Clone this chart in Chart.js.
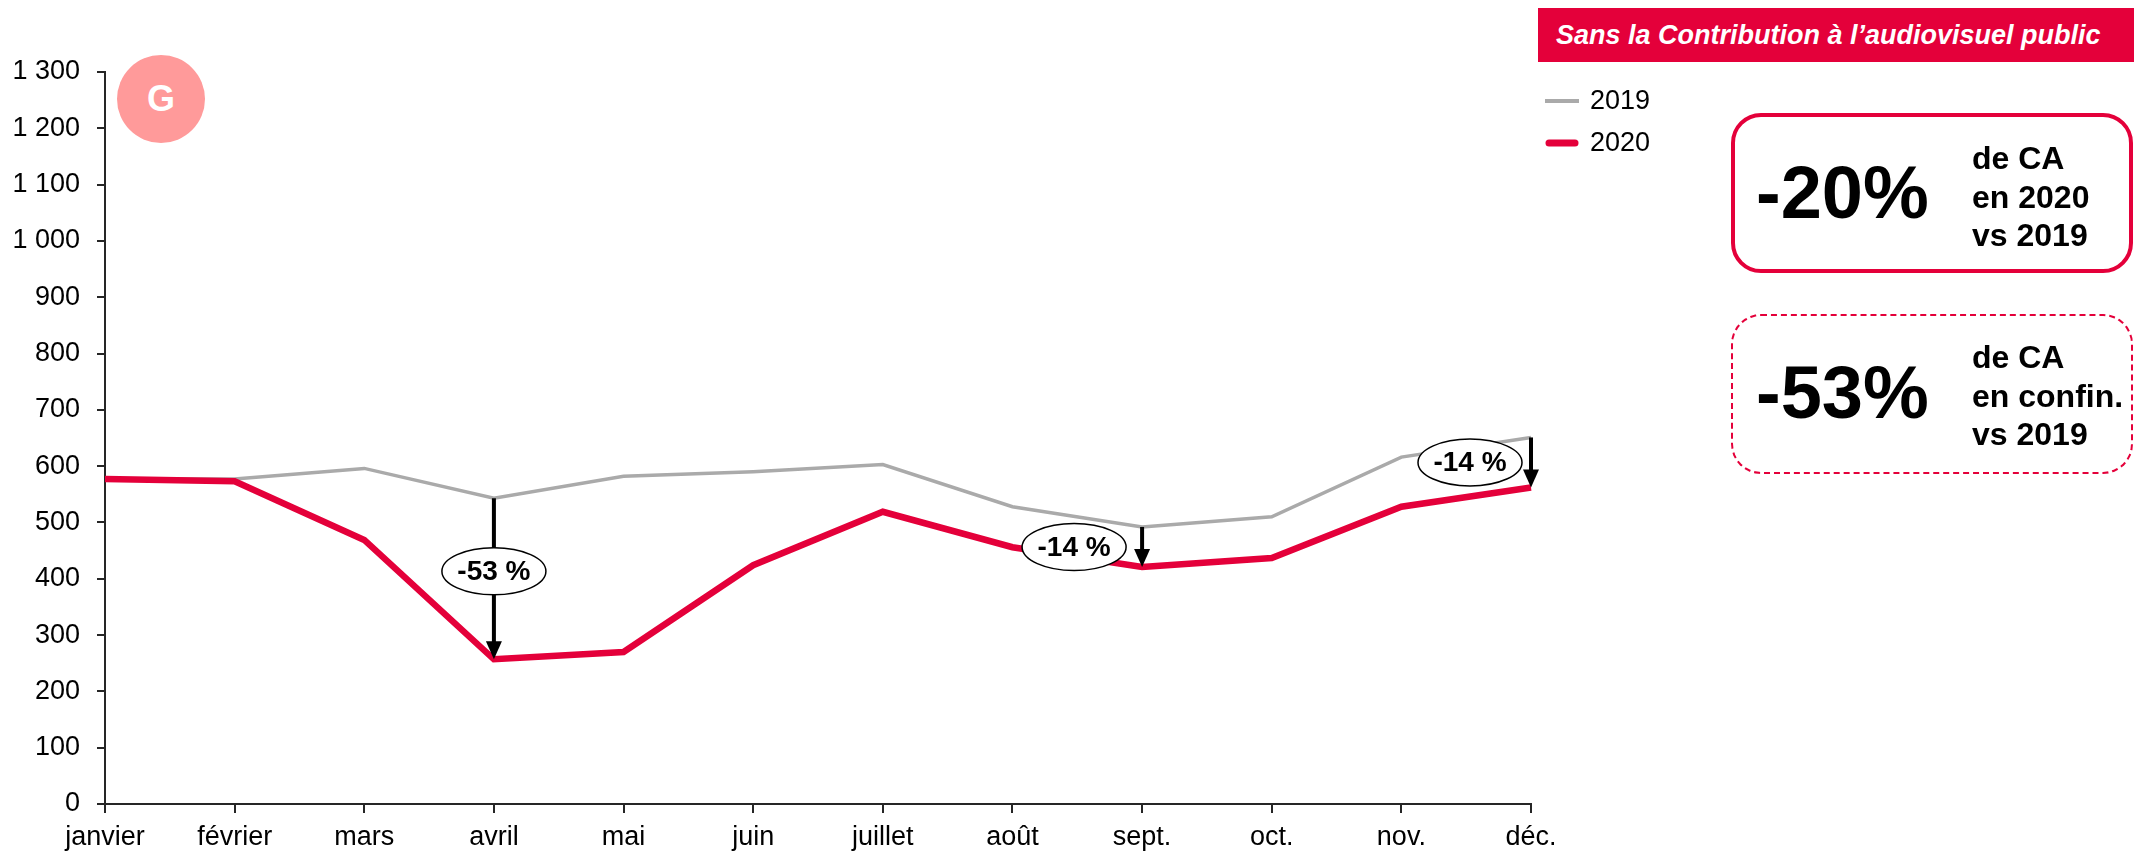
<!DOCTYPE html>
<html lang="fr">
<head>
<meta charset="utf-8">
<script src="https://cdn.jsdelivr.net/npm/chart.js@4.4.1/dist/chart.umd.min.js"></script>
<style>
  body { margin: 0; background: #fff; font-family: "Liberation Sans", Arial, sans-serif; }
  #wrap { position: relative; width: 2134px; height: 854px; overflow: hidden; }
  canvas { position: absolute; left: 0; top: 0; }
  .banner { position: absolute; left: 1538px; top: 8px; width: 596px; height: 54px; background: #e4003a;
            color: #fff; font-weight: bold; font-style: italic; font-size: 27px; line-height: 54px;
            padding-left: 18px; box-sizing: border-box; white-space: nowrap; }
  .badge { position: absolute; left: 117px; top: 55px; width: 88px; height: 88px; border-radius: 50%;
           background: #ff9a9a; color: #fff; font-weight: bold; font-size: 36px; line-height: 88px; text-align: center; }
  .box { position: absolute; left: 1731px; width: 402px; height: 160px; box-sizing: border-box; border-radius: 30px; }
  .box1 { top: 113px; border: 4px solid #e4003a; }
  .box2 { top: 314px; border: 2px dashed #e4003a; }
  .big { position: absolute; left: 1756px; font-weight: bold; font-size: 74px; line-height: 72px; white-space: nowrap; }
  .txt { position: absolute; left: 1972px; font-weight: bold; font-size: 32px; line-height: 38.5px; white-space: nowrap; }
</style>
</head>
<body>
<div id="wrap">
  <canvas id="chart" width="2134" height="854"></canvas>
  <div class="banner">Sans la Contribution à l’audiovisuel public</div>
  <div class="badge">G</div>
  <div class="box box1"></div>
  <div class="big" style="top:157px">-20%</div>
  <div class="txt" style="top:139px">de CA<br>en 2020<br>vs 2019</div>
  <div class="box box2"></div>
  <div class="big" style="top:357px">-53%</div>
  <div class="txt" style="top:338px">de CA<br>en confin.<br>vs 2019</div>
</div>
<script>
// mois et chiffre d'affaires
const months = ['janvier', 'février', 'mars', 'avril', 'mai', 'juin', 'juillet', 'août', 'sept.', 'oct.', 'nov.', 'déc.'];
const ca2019 = [577, 577, 596, 543, 582, 590, 603, 528, 492, 510, 616, 651];
const ca2020 = [577, 573, 469, 257, 270, 424, 519, 456, 421, 437, 528, 562];
const ecartIndex = [3, 8, 11];
const ecartLabels = ['-53 %', '-14 %', '-14 %'];

const RED = '#e4003a';
const GREY = '#aaaaaa';
const FONT = '"Liberation Sans", Arial, sans-serif';

const fmt = v => String(v).replace(/\B(?=(\d{3})+(?!\d))/g, ' ');

// fleches + bulles d'ecart, et legende
const ecartsPlugin = {
    id: 'ecarts',
    afterDatasetsDraw(chart, args, opts)
    {
        const { ctx, scales: { x, y } } = chart;
        ecartIndex.forEach((idx, k) =>
        {
            const px = x.getPixelForValue(idx);
            const y0 = y.getPixelForValue(ca2019[idx]);
            const y1 = y.getPixelForValue(ca2020[idx]);
            ctx.save();
            ctx.strokeStyle = '#000';
            ctx.fillStyle = '#000';
            ctx.lineWidth = 4;
            ctx.beginPath();
            ctx.moveTo(px, y0);
            ctx.lineTo(px, y1 - 14);
            ctx.stroke();
            ctx.beginPath();
            ctx.moveTo(px - 8, y1 - 18);
            ctx.lineTo(px + 8, y1 - 18);
            ctx.lineTo(px, y1);
            ctx.closePath();
            ctx.fill();

            const o = opts.offsets[k];
            const cx = px + o[0], cy = y0 + o[1];
            ctx.beginPath();
            ctx.ellipse(cx, cy, 52, 23.5, 0, 0, Math.PI * 2);
            ctx.fillStyle = '#fff';
            ctx.fill();
            ctx.lineWidth = 1.5;
            ctx.strokeStyle = '#000';
            ctx.stroke();
            ctx.fillStyle = '#000';
            ctx.font = 'bold 28px ' + FONT;
            ctx.textAlign = 'center';
            ctx.textBaseline = 'middle';
            ctx.fillText(ecartLabels[k], cx, cy + 1);
            ctx.restore();
        });
    },
    afterDraw(chart)
    {
        const ctx = chart.ctx;
        ctx.save();
        ctx.font = '27px ' + FONT;
        ctx.textBaseline = 'middle';
        ctx.fillStyle = '#000';
        chart.data.datasets.forEach((ds, i) =>
        {
            const ly = 101 + i * 42;
            ctx.strokeStyle = ds.borderColor;
            ctx.lineWidth = i === 0 ? 4 : 7;
            ctx.lineCap = i === 0 ? 'butt' : 'round';
            ctx.beginPath();
            ctx.moveTo(i === 0 ? 1545 : 1549, ly);
            ctx.lineTo(i === 0 ? 1579 : 1575, ly);
            ctx.stroke();
            ctx.fillText(ds.label, 1590, ly + 1);
        });
        ctx.restore();
    }
};

new Chart(document.getElementById('chart'), {
    type: 'line',
    data: {
        labels: months,
        datasets: [
            { label: '2019', data: ca2019, borderColor: GREY, borderWidth: 3.5, pointRadius: 0, tension: 0, order: 1 },
            { label: '2020', data: ca2020, borderColor: RED, borderWidth: 6.5, pointRadius: 0, tension: 0, order: 0 }
        ]
    },
    options: {
        responsive: false,
        animation: false,
        devicePixelRatio: 1,
        layout: { padding: { top: 72, right: 603, left: 0, bottom: 0 } },
        plugins: {
            legend: { display: false },
            tooltip: { enabled: false },
            ecarts: { offsets: [[0, 73], [-68, 20], [-61, 25]] }
        },
        scales: {
            x: {
                offset: false,
                grid: { drawOnChartArea: false, drawTicks: true, tickLength: 9, color: '#262626', lineWidth: 2 },
                border: { display: true, color: '#262626', width: 2 },
                ticks: { color: '#000', padding: 8, maxRotation: 0, autoSkip: false,
                         font: { family: FONT, size: 27 } },
                afterFit: s => { s.height = 50; }
            },
            y: {
                min: 0,
                max: 1300,
                ticks: { stepSize: 100, color: '#000', padding: 17, callback: v => fmt(v),
                         font: { family: FONT, size: 27 } },
                grid: { drawOnChartArea: false, drawTicks: true, tickLength: 8, color: '#262626', lineWidth: 2 },
                border: { display: true, color: '#262626', width: 2 },
                afterFit: s => { s.width = 105; }
            }
        }
    },
    plugins: [ecartsPlugin]
});
</script>
</body>
</html>
